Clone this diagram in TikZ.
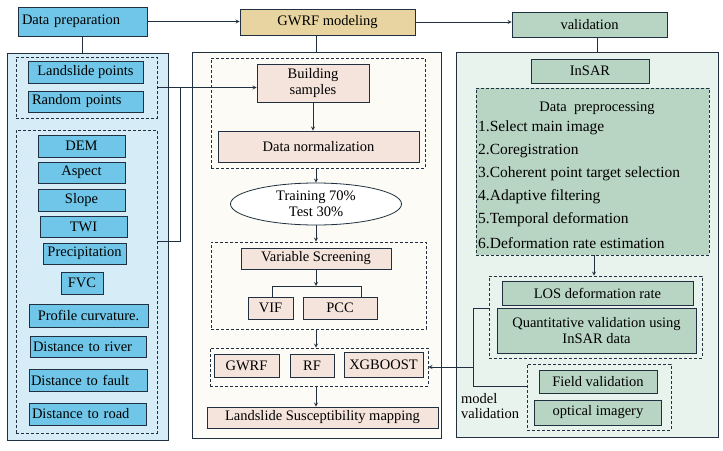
\documentclass[tikz,border=0pt]{standalone}
\usepackage{fontspec}
\usetikzlibrary{shapes.geometric}
\setmainfont{Liberation Serif}
\definecolor{dcol}{RGB}{33,48,64}
\definecolor{bcol}{RGB}{112,198,232}
\definecolor{lbcol}{RGB}{214,236,246}
\definecolor{tcol}{RGB}{232,212,160}
\definecolor{ccol}{RGB}{252,251,245}
\definecolor{pcol}{RGB}{245,228,220}
\definecolor{gcol}{RGB}{184,213,196}
\definecolor{lgcol}{RGB}{233,243,237}
\tikzset{every picture/.style={x=1pt,y=-1pt}}
\tikzset{every node/.style={font=\fontsize{14.5}{16.5}\selectfont,text=black}}
\tikzset{box/.style={draw=dcol,line width=0.8pt,inner sep=1pt,align=center}}
\tikzset{panel/.style={draw=dcol,line width=0.9pt}}
\tikzset{group/.style={draw=dcol,line width=0.8pt,dash pattern=on 3pt off 2pt}}
\tikzset{wh/.style 2 args={minimum width=#1pt,minimum height=#2pt}}
\tikzset{ltext/.style={align=left,text width=#1pt}}
\tikzset{conn/.style={draw=dcol,line width=0.8pt}}
\tikzset{edge/.style={conn,-stealth}}

\begin{document}
\begin{tikzpicture}
\useasboundingbox (0,0) rectangle (723,450);

\node [panel,fill=lbcol,wh={161}{387}] (lp) at (87.5,246.5) {};
\node [panel,fill=ccol,wh={249}{386}] (mp) at (316.5,245) {};
\node [panel,fill=lgcol,wh={262}{385}] (rp) at (587,244.5) {};

\node [box,fill=bcol,wh={129}{29},ltext=121] (dp) at (82.5,21.5) {Data preparation};
\node [box,fill=tcol,wh={175}{26}] (gh) at (327.5,22) {GWRF modeling};
\node [box,fill=gcol,wh={155}{25}] (vh) at (589.5,24.5) {validation};


\node [group,wh={141}{61}] (lg1) at (86.5,87.5) {};
\node [box,fill=bcol,wh={115}{22}] (lsp) at (85.5,72) {Landslide points};
\node [box,fill=bcol,wh={115}{21},ltext=107] (rnd) at (85.5,101.5) {Random points};

\node [group,wh={141}{303}] (lg2) at (86.5,281.5) {};
\node [box,fill=bcol,wh={87}{22}] (dem) at (81.5,146) {DEM};
\node [box,fill=bcol,wh={87}{21}] (asp) at (81.5,172.5) {Aspect};
\node [box,fill=bcol,wh={87}{22}] (slo) at (81.5,200) {Slope};
\node [box,fill=bcol,wh={87}{21}] (twi) at (83.5,226.5) {TWI};
\node [box,fill=bcol,wh={83}{21}] (pre) at (84.5,253.5) {Precipitation};
\node [box,fill=bcol,wh={42}{22}] (fvc) at (82,283) {FVC};
\node [box,fill=bcol,wh={119}{23}] (prc) at (88.5,315.5) {Profile curvature.};
\node [box,fill=bcol,wh={116}{21},ltext=110] (riv) at (88,346.5) {Distance to river};
\node [box,fill=bcol,wh={118}{22},ltext=114] (fau) at (88,380) {Distance to fault};
\node [box,fill=bcol,wh={117}{22},ltext=111] (roa) at (87.5,414) {Distance to road};


\node [group,wh={214}{110}] (mg1) at (318,113) {};
\node [box,fill=pcol,wh={112}{38}] (bs) at (313,83) {Building\\samples};
\node [box,fill=pcol,wh={201}{31}] (dn) at (318.5,146.5) {Data normalization};
\node [draw=dcol,line width=0.8pt,ellipse,fill=white,wh={171}{42},inner sep=0pt,align=center] (tt) at (316,204) {Training 70\%\\Test 30\%};

\node [group,wh={215}{87}] (mg2) at (318.5,285.5) {};
\node [box,fill=pcol,wh={150}{21}] (vs) at (316,258.5) {Variable Screening};
\node [box,fill=pcol,wh={45}{22}] (vif) at (270.5,308) {VIF};
\node [box,fill=pcol,wh={74}{22}] (pcc) at (340,308) {PCC};

\node [group,wh={218}{38}] (mg3) at (319,367) {};
\node [box,fill=pcol,wh={65}{23}] (gw) at (246.5,365.5) {GWRF};
\node [box,fill=pcol,wh={44}{23}] (rf) at (312,365.5) {RF};
\node [box,fill=pcol,wh={79}{25}] (xg) at (383.5,364.5) {XGBOOST};

\node [box,fill=pcol,wh={231}{21}] (lsm) at (322.5,417.5) {Landslide Susceptibility mapping};


\node [box,fill=gcol,wh={118}{24}] (ins) at (590,71) {InSAR};
\node [group,fill=gcol,wh={233}{167}] (pp) at (592.5,171.5) {};
\node (pt) at (597,108) {Data\ \ preprocessing};
\foreach \t [count=\i] in {1.Select main image,2.Coregistration,3.Coherent point target selection,4.Adaptive filtering,5.Temporal deformation,6.Deformation rate estimation}
  \node [anchor=west,inner sep=1pt,font=\fontsize{15.5}{17}\selectfont] (p\i) at (477,105+23*\i) {\t};

\node [group,wh={213}{82}] (rg2) at (595.5,317) {};
\node [box,fill=gcol,wh={191}{24}] (los) at (597.5,293) {LOS deformation rate};
\node [box,fill=gcol,wh={199}{45}] (qv) at (596.5,330.5) {Quantitative validation using\\InSAR data};

\node [group,wh={144}{66}] (rg3) at (599,397) {};
\node [box,fill=gcol,wh={118}{23}] (fv) at (598,382) {Field validation};
\node [box,fill=gcol,wh={127}{25}] (oi) at (598,412.5) {optical imagery};

\node [anchor=west,align=left,inner sep=0pt,font=\fontsize{14.5}{15}\selectfont] (mv) at (461,406) {model\\validation};


\draw [edge] (dp.east) -- (dp.east -| gh.west);
\draw [edge] (gh.east) -- (gh.east -| vh.west);
\draw [conn] (dp.south) -- (dp.south |- lp.north);
\draw [conn] (mp.north) -- (mp.north |- gh.south);
\coordinate (vt) at (597,52);
\draw [conn] (vt) -- (vt |- vh.south);

\coordinate (jt) at (180,88);
\coordinate (jb) at (180,241);
\draw [edge] (lg1.east) -- (lg1.east -| bs.west);
\draw [conn] (jb -| lg2.east) -- (jb) -- (jt);

\draw [edge] (bs.south) -- (bs.south |- dn.north);
\draw [edge] (tt |- mg1.south) -- (tt.north);
\draw [edge] (tt.south) -- (tt.south |- mg2.north);
\coordinate (fk) at (316,286);
\coordinate (fl) at (272,286);
\coordinate (fr) at (361,286);
\draw [edge] (vs.south) -- (fk);
\draw [conn] (fl |- vif.north) -- (fl) -- (fr) -- (fr |- pcc.north);
\draw [edge] (tt |- mg2.south) -- (tt |- mg3.north);
\draw [edge] (tt |- mg3.south) -- (tt |- lsm.north);

\draw [edge] (594,0 |- pp.south) -- (594,0 |- rg2.north);
\coordinate (mt) at (473,308);
\coordinate (mb) at (473,386);
\coordinate (mm) at (473,367);
\draw [conn] (mt -| rg2.west) -- (mt) -- (mb) -- (mb -| rg3.west);
\draw [edge] (mm) -- (mm -| mg3.east);
\end{tikzpicture}
\end{document}
